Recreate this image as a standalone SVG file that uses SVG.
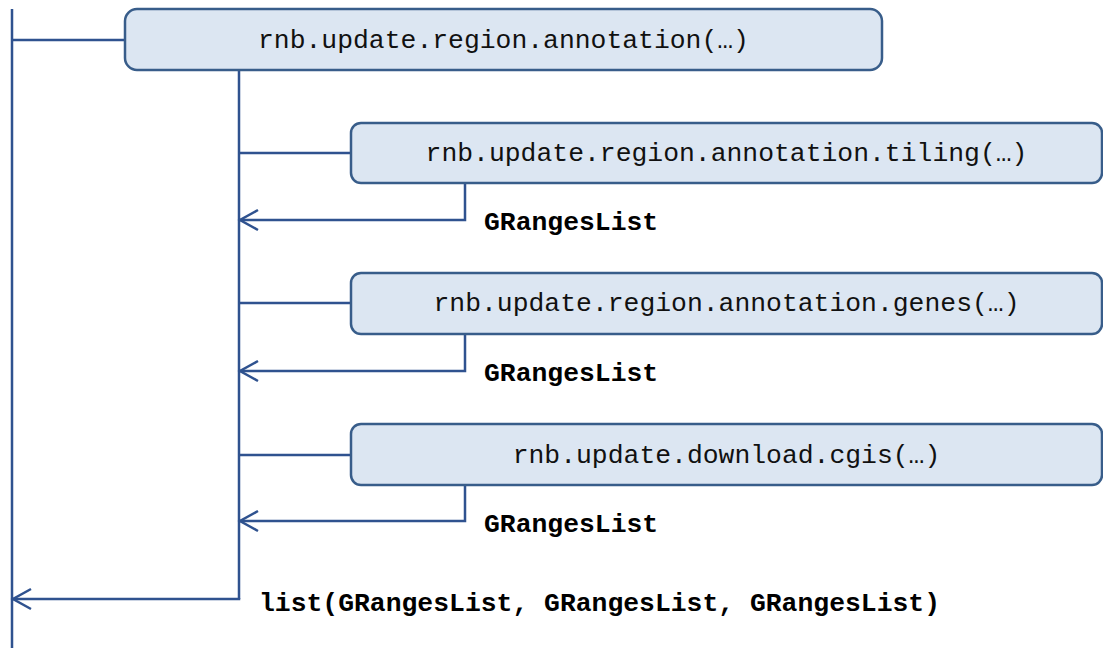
<svg xmlns="http://www.w3.org/2000/svg" width="1103" height="648" viewBox="0 0 1103 648">
  <defs>
    <style>
      .box { fill: #DCE6F2; stroke: #385D8A; stroke-width: 2.5; }
      .line { fill: none; stroke: #2F528F; stroke-width: 2.5; }
      .label { font-family: "Liberation Mono", "Courier New", monospace; font-size: 26.4px; fill: #111; }
      .ret { font-family: "Liberation Mono", "Courier New", monospace; font-size: 26.4px; font-weight: bold; fill: #000; }
    </style>
    <!-- open chevron arrowhead, tip at the end of the path -->
    <marker id="openArrow" markerWidth="24" markerHeight="24" refX="20" refY="12" orient="auto" markerUnits="userSpaceOnUse">
      <path d="M2,2 L20,12 L2,22" fill="none" stroke="#2F528F" stroke-width="2.5"/>
    </marker>
  </defs>
  <rect width="1103" height="648" fill="#FFFFFF"/>

  <!-- call and return connectors -->
  <g id="connectors">
    <line class="line" x1="12" y1="9" x2="12" y2="648"/>
    <line class="line" x1="12" y1="40" x2="125" y2="40"/>
    <line class="line" x1="239" y1="70" x2="239" y2="599"/>
    <line class="line" x1="239" y1="153" x2="351" y2="153"/>
    <polyline class="line" points="465,183 465,220 240,220" marker-end="url(#openArrow)"/>
    <line class="line" x1="239" y1="303" x2="351" y2="303"/>
    <polyline class="line" points="465,334 465,371 240,371" marker-end="url(#openArrow)"/>
    <line class="line" x1="239" y1="455" x2="351" y2="455"/>
    <polyline class="line" points="465,485 465,521 240,521" marker-end="url(#openArrow)"/>
    <polyline class="line" points="239,598 239,599 13,599" marker-end="url(#openArrow)"/>
  </g>

  <g id="node-annotation">
    <rect class="box" x="125" y="9" width="757" height="61" rx="12"/>
    <text class="label" x="503.5" y="48" text-anchor="middle">rnb.update.region.annotation(…)</text>
  </g>

  <g id="node-tiling">
    <rect class="box" x="351" y="123" width="751" height="60" rx="10"/>
    <text class="label" x="726.5" y="161" text-anchor="middle">rnb.update.region.annotation.tiling(…)</text>
  </g>
  <text class="ret" x="484" y="230">GRangesList</text>

  <g id="node-genes">
    <rect class="box" x="351" y="273" width="751" height="61" rx="10"/>
    <text class="label" x="726.5" y="311" text-anchor="middle">rnb.update.region.annotation.genes(…)</text>
  </g>
  <text class="ret" x="484" y="381">GRangesList</text>

  <g id="node-cgis">
    <rect class="box" x="351" y="424" width="751" height="61" rx="10"/>
    <text class="label" x="726.5" y="463" text-anchor="middle">rnb.update.download.cgis(…)</text>
  </g>
  <text class="ret" x="484" y="532">GRangesList</text>

  <text class="ret" x="259" y="611">list(GRangesList, GRangesList, GRangesList)</text>
</svg>
